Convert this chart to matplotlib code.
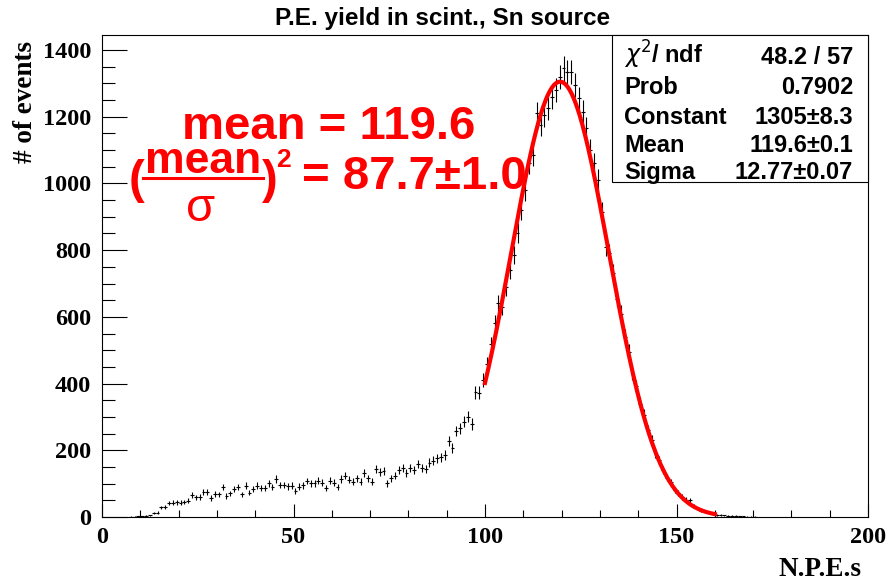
import matplotlib
matplotlib.use("Agg")
import matplotlib.pyplot as plt
import numpy as np
from matplotlib.lines import Line2D
from matplotlib.patches import Rectangle
from matplotlib.ticker import MultipleLocator

# N.P.E. histogram, 200 bins of width 1 from 0 to 200
bin_edges = np.arange(0, 201, 1)
counts = np.array([
    0, 0, 0, 0, 0, 0, 0, 1, 1, 2,
    2, 4, 5, 11, 13, 29, 31, 42, 43, 44,
    43, 45, 49, 66, 59, 60, 76, 75, 57, 69,
    68, 90, 63, 71, 83, 89, 68, 94, 73, 83,
    94, 88, 88, 101, 89, 114, 96, 96, 92, 94,
    79, 91, 95, 108, 101, 101, 109, 103, 86, 109,
    103, 89, 114, 124, 111, 106, 116, 106, 131, 116,
    106, 143, 134, 138, 101, 116, 124, 142, 146, 131,
    146, 141, 158, 146, 144, 163, 169, 176, 179, 186,
    229, 206, 258, 266, 286, 301, 279, 374, 373, 410,
    458, 518, 581, 641, 630, 690, 740, 785, 851, 920,
    980, 1061, 1085, 1210, 1175, 1205, 1225, 1260, 1280, 1320,
    1345, 1335, 1335, 1295, 1255, 1215, 1165, 1100, 1060, 1010,
    915, 810, 790, 730, 655, 610, 540, 495, 430, 392,
    340, 305, 261, 230, 190, 170, 140, 118, 104, 82,
    72, 60, 52, 50, 33, 26, 19, 15, 12, 9,
    7, 6, 5, 4, 3, 3, 2, 2, 1, 1,
    1, 0, 0, 0, 0, 0, 0, 0, 0, 0,
    0, 0, 0, 0, 0, 0, 0, 0, 0, 0,
    0, 0, 0, 0, 0, 0, 0, 0, 0, 0,
])

# gaussian fit results
fit_const, fit_const_err = 1305, 8.3
fit_mean, fit_mean_err = 119.6, 0.1
fit_sigma, fit_sigma_err = 12.77, 0.07
fit_range = (100, 160)
chi2, ndf, prob = 48.2, 57, 0.7902
ratio, ratio_err = 87.7, 1.0

W, H = 888, 582
fig = plt.figure(figsize=(W / 100, H / 100), dpi=100)
fig.patch.set_facecolor("white")

def fx(px):
    return px / W

def fy(py):
    return 1 - py / H

x0, x1, y0, y1 = 102, 868, 35, 517
ax = fig.add_axes([fx(x0), fy(y1), fx(x1) - fx(x0), fy(y0) - fy(y1)])

SERIF = "Liberation Serif"
SANS = "Liberation Sans"

centers = 0.5 * (bin_edges[:-1] + bin_edges[1:])
nz = counts > 0
ax.errorbar(centers[nz], counts[nz], yerr=np.sqrt(counts[nz]), xerr=0.5,
            fmt="none", ecolor="black", elinewidth=0.8, capsize=0, zorder=2)

xs = np.linspace(fit_range[0], fit_range[1], 400)
ax.plot(xs, fit_const * np.exp(-0.5 * ((xs - fit_mean) / fit_sigma) ** 2),
        color="#ff0000", linewidth=3.0, zorder=3)

ax.set_xlim(0, 200)
ax.set_ylim(0, 1445)
ax.xaxis.set_major_locator(MultipleLocator(50))
ax.xaxis.set_minor_locator(MultipleLocator(10))
ax.yaxis.set_major_locator(MultipleLocator(200))
ax.yaxis.set_minor_locator(MultipleLocator(50))
ax.tick_params(which="both", direction="in", top=False, right=False, width=0.8)
ax.tick_params(axis="x", which="major", length=9.5, pad=7)
ax.tick_params(axis="x", which="minor", length=4.8)
ax.tick_params(axis="y", which="major", length=18, pad=8)
ax.tick_params(axis="y", which="minor", length=9.5)
for lab in ax.get_xticklabels() + ax.get_yticklabels():
    lab.set_fontfamily(SERIF)
    lab.set_fontweight("bold")
    lab.set_fontsize(17.5)
for sp in ax.spines.values():
    sp.set_linewidth(0.8)

fig.text(fx(861), fy(576), "N.P.E.s", ha="right", va="baseline",
         fontfamily=SERIF, fontweight="bold", fontsize=19.5)
fig.text(fx(13), fy(41), "# of events", ha="right", va="top", rotation=90,
         rotation_mode="anchor", fontfamily=SERIF, fontweight="bold", fontsize=19.5)
fig.text(fx(443), fy(25), "P.E. yield in scint., Sn source", ha="center", va="baseline",
         fontfamily=SANS, fontweight="bold", fontsize=17.5)

# fit statistics box
fig.patches.append(Rectangle((fx(612), fy(182)), fx(868) - fx(612), fy(35) - fy(182),
                             transform=fig.transFigure, facecolor="white",
                             edgecolor="black", linewidth=0.8, zorder=5))
stat_rows = [
    (r"$\chi^{2}$/ ndf", f"{chi2:.1f} / {ndf}", 64),
    ("Prob", f"{prob:.4f}", 94),
    ("Constant", f"{fit_const}\u00b1{fit_const_err:.1f}", 124),
    ("Mean", f"{fit_mean:.1f}\u00b1{fit_mean_err:.1f}", 152),
    ("Sigma", f"{fit_sigma:.2f}\u00b1{fit_sigma_err:.2f}", 179),
]
for name, val, yb in stat_rows:
    fig.text(fx(624), fy(yb), name, ha="left", va="baseline", fontfamily=SANS,
             fontweight="bold", fontsize=17, zorder=6)
    fig.text(fx(853), fy(yb), val, ha="right", va="baseline", fontfamily=SANS,
             fontweight="bold", fontsize=17, zorder=6)

# red annotation: mean and (mean/sigma)^2
red = "#ff0000"
big = 34
fig.text(fx(182), fy(139), f"mean = {fit_mean}", ha="left", va="baseline",
         color=red, fontfamily=SANS, fontweight="bold", fontsize=big, zorder=6)
fig.text(fx(129), fy(193), "(", ha="left", va="baseline", color=red,
         fontfamily=SANS, fontweight="bold", fontsize=big, zorder=6)
fig.text(fx(203), fy(173), "mean", ha="center", va="baseline", color=red,
         fontfamily=SANS, fontweight="bold", fontsize=32, zorder=6)
fig.lines.append(Line2D([fx(143), fx(263)], [fy(178), fy(178)], transform=fig.transFigure,
                        color=red, linewidth=2.2, zorder=6))
fig.text(fx(201), fy(221), "\u03c3", ha="center", va="baseline", color=red,
         fontfamily=SANS, fontsize=big, zorder=6)
fig.text(fx(262), fy(193), ")", ha="left", va="baseline", color=red,
         fontfamily=SANS, fontweight="bold", fontsize=big, zorder=6)
fig.text(fx(276), fy(167), "2", ha="left", va="baseline", color=red,
         fontfamily=SANS, fontweight="bold", fontsize=19, zorder=6)
fig.text(fx(302), fy(189), f"= {ratio:.1f}\u00b1{ratio_err:.1f}", ha="left", va="baseline",
         color=red, fontfamily=SANS, fontweight="bold", fontsize=big, zorder=6)

fig.savefig("out.png", dpi=100)
